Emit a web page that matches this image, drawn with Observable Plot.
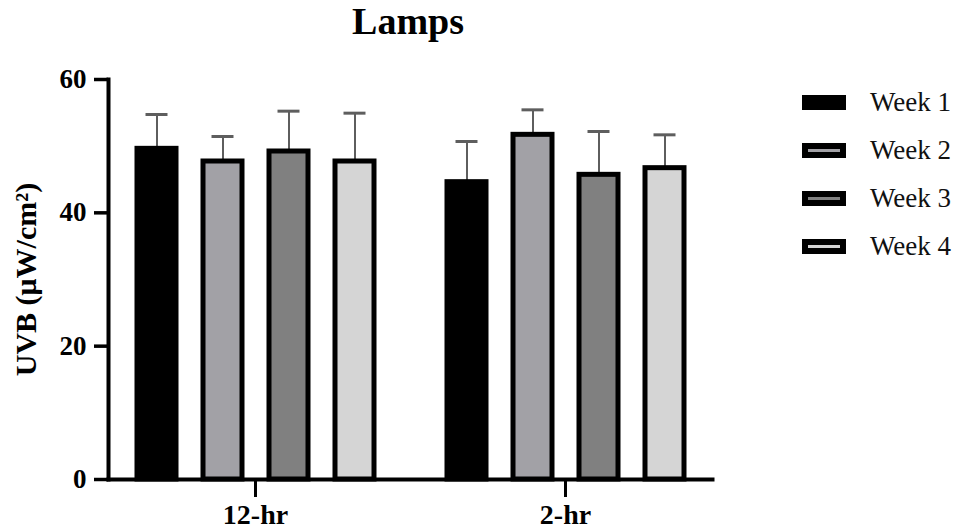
<!DOCTYPE html>
<html>
<head>
<meta charset="utf-8">
<script src="https://cdn.jsdelivr.net/npm/d3@7"></script>
<script src="https://cdn.jsdelivr.net/npm/@observablehq/plot@0.6"></script>
<style>
  body { margin: 0; background: #fff; }
  #wrap { position: relative; width: 954px; height: 529px; font-family: "Liberation Serif", "Times New Roman", serif; }
  #title { position: absolute; left: 0; top: 0; width: 816px; text-align: center; font-weight: bold; font-size: 38px; line-height: 42px; color: #000; }
  #legend { position: absolute; left: 802px; top: 78px; }
  .row { display: flex; align-items: center; height: 48px; }
  .sw { width: 44px; height: 15px; box-sizing: border-box; border: 6px solid #000; }
  .lab { margin-left: 24px; font-size: 27px; color: #111; }
</style>
</head>
<body>
<div id="wrap">
  <div id="title">Lamps</div>
  <div id="legend"></div>
</div>
<script>
const groups = ["12-hr", "2-hr"];
const weeks = ["Week 1", "Week 2", "Week 3", "Week 4"];
const colors = ["#000000", "#a2a1a6", "#808080", "#d5d5d5"];
const mean12 = [49.6, 47.7, 49.2, 47.7];
const sd12 = [5.15, 3.75, 6.05, 7.25];
const mean2 = [44.6, 51.7, 45.7, 46.7];
const sd2 = [6.1, 3.75, 6.5, 5.0];
const yTicks = [0, 20, 40, 60];

const data = [];
weeks.forEach((w, i) => data.push({group: groups[0], week: w, mean: mean12[i], upper: mean12[i] + sd12[i]}));
weeks.forEach((w, i) => data.push({group: groups[1], week: w, mean: mean2[i], upper: mean2[i] + sd2[i]}));

const font = "'Liberation Serif', 'Times New Roman', serif";

const chart = Plot.plot({
  width: 954,
  height: 529,
  marginTop: 79,
  marginBottom: 50,
  marginLeft: 107,
  marginRight: 242,
  style: {fontFamily: font, background: "transparent", color: "#000"},
  fx: {domain: groups, paddingInner: 0.052, paddingOuter: 0, label: null},
  x: {domain: weeks, paddingInner: 0.415, paddingOuter: 0.41, axis: null},
  y: {domain: [0, 60]},
  color: {domain: weeks, range: colors},
  marks: [
    Plot.ruleX(data, {fx: "group", x: "week", y1: "mean", y2: "upper", stroke: "#5e5e5e", strokeWidth: 2}),
    Plot.tickY(data, {fx: "group", x: "week", y: "upper", stroke: "#5e5e5e", strokeWidth: 3, insetLeft: 8.5, insetRight: 8.5}),
    Plot.barY(data, {fx: "group", x: "week", y: "mean", fill: "week", stroke: "#000", strokeWidth: 5}),
    Plot.frame({anchor: "bottom", facet: "super", stroke: "#000", strokeWidth: 4}),
    Plot.frame({anchor: "left", facet: "super", stroke: "#000", strokeWidth: 4}),
    Plot.axisY({ticks: yTicks, tickSize: 14, tickPadding: 8, strokeWidth: 3.5, fontSize: 27, fontWeight: "bold", label: null}),
    Plot.axisY({ticks: [], label: "UVB (μW/cm²)", labelAnchor: "center", labelArrow: "none", labelOffset: 94,
      fontSize: 30, fontWeight: "bold"}),
    Plot.axisFx({anchor: "bottom", tickSize: 18, tickPadding: 7, strokeWidth: 3, fontSize: 28, fontWeight: "bold", label: null})
  ]
});
document.getElementById("wrap").prepend(chart);
chart.style.position = "absolute";
chart.style.left = "0";
chart.style.top = "0";

const legend = document.getElementById("legend");
weeks.forEach((w, i) => {
  const row = document.createElement("div");
  row.className = "row";
  const sw = document.createElement("div");
  sw.className = "sw";
  sw.style.background = colors[i];
  const lab = document.createElement("div");
  lab.className = "lab";
  lab.textContent = w;
  row.append(sw, lab);
  legend.append(row);
});
</script>
</body>
</html>
